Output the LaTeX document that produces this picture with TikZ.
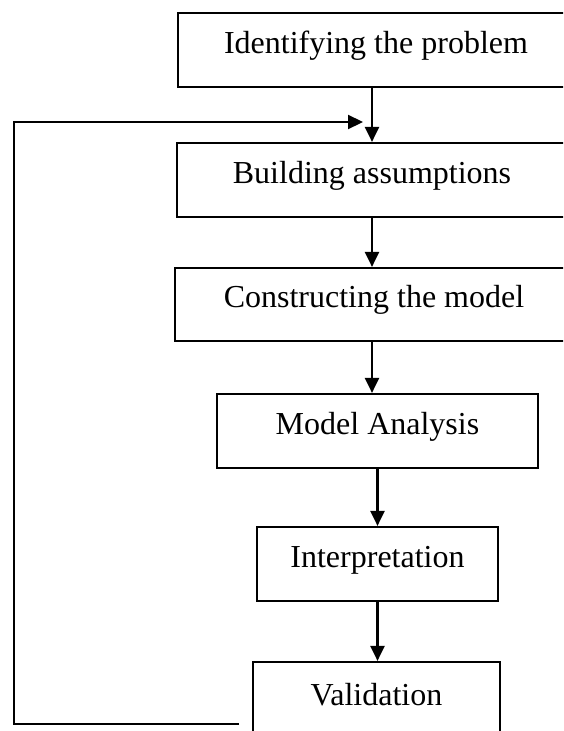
\documentclass[tikz,border=0pt]{standalone}
\usepackage{fontspec}
\setmainfont{Liberation Serif}
\usetikzlibrary{arrows.meta}
\begin{document}
\begin{tikzpicture}[x=1pt,y=-1pt,
  stage/.style={draw, line width=2.2pt, rectangle, inner sep=0pt,
    font=\fontsize{32}{38}\selectfont, text height=20pt, text depth=14pt},
  arr/.style={line width=2.2pt, -{Triangle[length=15pt,width=14pt]}}]
\useasboundingbox (0,0) rectangle (563,731);
\clip (0,0) rectangle (563,731);
\fill[white] (0,0) rectangle (563,731);
% boxes: centre and size from pixel edges
\node[stage, minimum width=396pt, minimum height=74pt] (b1) at (376,50) {Identifying the problem};
\node[stage, minimum width=390pt, minimum height=74pt] (b2) at (372,180) {Building assumptions};
\node[stage, minimum width=398pt, minimum height=73pt] (b3) at (374,304.5) {Constructing the model};
\node[stage, minimum width=321pt, minimum height=74pt] (b4) at (377.5,431) {Model Analysis};
\node[stage, minimum width=241pt, minimum height=74pt] (b5) at (377.5,564) {Interpretation};
\node[stage, minimum width=247pt, minimum height=80pt] (b6) at (376.5,702) {Validation};
% flow arrows
\draw[arr] (b1.south -| b2.north) -- (b2.north);
\draw[arr] (b2.south) -- (b2.south |- b3.north);
\draw[arr] (b3.south -| b2.south) -- (b4.north -| b2.south);
\draw[arr] (b4.south) -- (b4.south |- b5.north);
\draw[arr] (b5.south) -- (b5.south |- b6.north);
% feedback loop
\coordinate (fbstart) at (239,724);
\coordinate (fbcorner1) at (14,724);
\coordinate (fbcorner2) at (14,122);
\coordinate (fbend) at (363,122);
\draw[arr] (fbstart) -- (fbcorner1) -- (fbcorner2) -- (fbend);
\end{tikzpicture}
\end{document}
